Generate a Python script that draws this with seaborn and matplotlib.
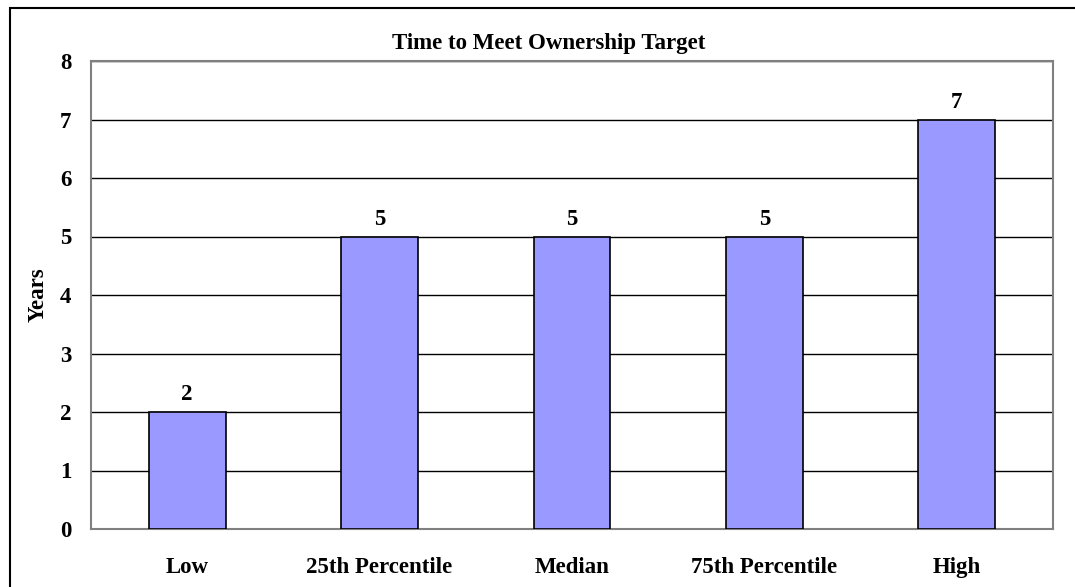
import matplotlib
matplotlib.use("Agg")
import matplotlib.pyplot as plt
import seaborn as sns
import pandas as pd
from matplotlib.patches import Rectangle

categories = ["Low", "25th Percentile", "Median", "75th Percentile", "High"]
values = [2, 5, 5, 5, 7]
yticks = [0, 1, 2, 3, 4, 5, 6, 7, 8]

sns.set_theme(style="white")
plt.rcParams['font.family'] = ['Liberation Serif', 'DejaVu Serif']
plt.rcParams['font.weight'] = 'bold'
plt.rcParams['text.color'] = 'black'
plt.rcParams['axes.labelcolor'] = 'black'
plt.rcParams['xtick.color'] = 'black'
plt.rcParams['ytick.color'] = 'black'

FS = 16.5

df = pd.DataFrame({"cat": categories, "val": values})

fig = plt.figure(figsize=(10.75, 5.87), dpi=100)
ax = fig.add_axes([91/1075, 1 - 529/587, (1053 - 91)/1075, (529 - 61)/587])

sns.barplot(data=df, x="cat", y="val", color="#9999FF", saturation=1,
            width=0.4, edgecolor="black", linewidth=1.2, ax=ax, zorder=3)

ax.set_ylim(0, 8)
ax.set_xlim(-0.5, 4.5)
ax.set_yticks(yticks)
ax.set_yticklabels([str(t) for t in yticks], fontsize=FS, fontweight='bold', color='black')
ax.set_xticklabels(categories, fontsize=FS, fontweight='bold', color='black')
ax.tick_params(axis='y', length=0, pad=14)
ax.tick_params(axis='x', length=0, pad=20)
ax.yaxis.grid(True, color='black', linewidth=1.0, zorder=0)
ax.set_axisbelow(True)
for s in ax.spines.values():
    s.set_color('#808080')
    s.set_linewidth(1.5)

ax.set_xlabel("")
ax.set_ylabel("Years", fontsize=FS, fontweight='bold', labelpad=8, color='black')
ax.set_title("Time to Meet Ownership Target", fontsize=FS, fontweight='bold', pad=9,
             color='black', x=(549 - 91) / 962)

for i, v in enumerate(values):
    ax.annotate(str(v), (i, v), xytext=(0, 5), textcoords='offset points',
                ha='center', va='bottom', fontsize=FS, fontweight='bold', color='black')

fig.patches.append(Rectangle((9.5/1075, -0.1), 1.2, 1 - 8/587 + 0.1,
                             transform=fig.transFigure, fill=False,
                             edgecolor='black', linewidth=1.5))

fig.savefig("out.png", dpi=100)
